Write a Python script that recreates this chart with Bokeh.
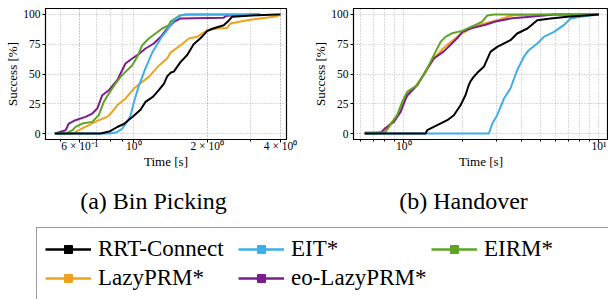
from bokeh.plotting import figure
from bokeh.models import FixedTicker, Legend, LegendItem, Label
from bokeh.layouts import column, row
from bokeh.embed import file_html
from bokeh.resources import INLINE

# ---------------- data ----------------
colors = {"RRT-Connect": "#000000", "EIT*": "#3daee9", "LazyPRM*": "#efa21f",
          "eo-LazyPRM*": "#7a1e8b", "EIRM*": "#5ea324"}

# (a) Bin Picking: time [s], success [%]
bp_rrt_t = [0.474, 0.73, 0.80, 0.855, 0.91, 0.969, 1.0, 1.065, 1.117, 1.2, 1.266, 1.33, 1.37, 1.414, 1.459, 1.554, 1.656, 1.76, 1.877, 2.0, 2.1, 2.34, 2.455, 2.53, 3.21, 3.88, 4.0]
bp_rrt_s = [0, 0, 2, 5.5, 8, 12.6, 15, 20, 26.6, 31, 36.4, 42, 48, 51, 52, 60, 66, 75, 80, 86, 88, 91, 95, 98, 99.4, 100, 100]
bp_eit_t = [0.474, 0.80, 0.85, 0.896, 0.94, 0.969, 1.0, 1.048, 1.08, 1.117, 1.19, 1.266, 1.30, 1.349, 1.414, 1.46, 1.554, 1.62, 3.3]
bp_eit_s = [0, 0, 1, 4, 10, 15, 26, 40, 47, 55, 68, 77, 81, 85, 91, 95, 99, 100, 100]
bp_lazy_t = [0.474, 0.56, 0.595, 0.654, 0.718, 0.778, 0.815, 0.855, 0.924, 1.0, 1.083, 1.152, 1.266, 1.37, 1.414, 1.554, 1.68, 1.82, 2.0, 2.2, 2.41, 2.49, 2.92, 3.3, 3.75, 3.95]
bp_lazy_s = [0, 0, 2.8, 7, 11.2, 14, 18.2, 23.8, 29.4, 37.8, 43.4, 47.6, 57, 63, 68, 74, 79.8, 81.2, 86.8, 88.2, 88.6, 92.4, 95.2, 96.6, 98, 99]
bp_eo_t = [0.474, 0.49, 0.525, 0.541, 0.576, 0.633, 0.675, 0.708, 0.742, 0.79, 0.855, 0.924, 0.985, 1.033, 1.117, 1.208, 1.287, 1.37, 1.46, 1.55, 2.34, 2.4, 3.3]
bp_eo_s = [0, 1, 2.8, 8.4, 11.2, 14, 16.8, 21, 32.2, 36.4, 44.8, 58.8, 63, 65.8, 71.4, 75.6, 81, 88, 93.7, 96.5, 97.3, 99, 100]
bp_eirm_t = [0.474, 0.525, 0.56, 0.576, 0.614, 0.675, 0.718, 0.753, 0.79, 0.841, 0.882, 0.924, 0.985, 1.033, 1.083, 1.152, 1.227, 1.308, 1.392, 1.414, 1.554, 1.65, 3.3]
bp_eirm_s = [0, 0, 2.8, 5.6, 8.4, 9.8, 15.4, 26.6, 33.6, 42, 47.6, 51.8, 57.4, 64.4, 74.2, 79.8, 84, 88.2, 91, 94, 99.4, 100, 100]

# (b) Handover
ho_rrt_t = [0.63, 1.292, 1.318, 1.483, 1.67, 1.805, 1.953, 2.07, 2.15, 2.2, 2.28, 2.38, 2.57, 2.78, 3.01, 3.52, 3.81, 4.3, 4.83, 5.65, 6.9, 10.0]
ho_rrt_s = [0, 0, 2.8, 7, 11.2, 15.4, 23.8, 32.2, 40.6, 44, 47.6, 51, 56, 68.6, 72.8, 78.4, 84, 88.2, 95.2, 96.6, 98, 100]
ho_eit_t = [0.63, 2.73, 2.84, 3.01, 3.26, 3.52, 3.81, 4.12, 4.37, 4.83, 5.22, 5.89, 6.6, 7.16, 8.06, 10.0]
ho_eit_s = [0, 0, 8.4, 15.4, 29.4, 37.8, 53.2, 64.4, 70, 75.6, 81.2, 85.4, 91, 96.6, 98, 100]
ho_lazy_t = [0.63, 0.76, 0.79, 0.889, 0.962, 1.02, 1.125, 1.266, 1.425, 1.604, 1.805, 1.953, 2.11, 2.24, 2.47, 2.62, 3.07, 3.39, 3.66, 5.9, 10.0]
ho_lazy_s = [1, 1, 2.8, 11.2, 18.2, 29.4, 37.8, 49, 63, 72, 79, 83.5, 86.5, 89.9, 91.5, 92.7, 95.5, 98, 99.4, 100, 100]
ho_eo_t = [0.63, 0.76, 0.80, 0.889, 0.962, 1.04, 1.171, 1.318, 1.425, 1.604, 1.70, 1.877, 1.993, 2.24, 2.62, 2.95, 3.6, 4.46, 5.9, 10.0]
ho_eo_s = [0, 0.5, 4.2, 9.8, 18.2, 32.2, 40.6, 54.6, 63, 69, 73.1, 80, 85.4, 88.5, 91.3, 94.1, 96.9, 98, 100, 100]
ho_eirm_t = [0.63, 0.806, 0.872, 0.924, 0.981, 1.04, 1.171, 1.292, 1.37, 1.454, 1.543, 1.636, 1.77, 1.99, 2.33, 2.52, 2.68, 2.9, 10.0]
ho_eirm_s = [0, 1.3, 9.8, 15.4, 26.6, 35, 40.6, 51.8, 60.2, 68.6, 77, 81.2, 84.3, 86.2, 91.3, 94, 99.1, 100, 100]

y_ticks = [0, 25, 50, 75, 100]
bp_x_major = [0.6, 1, 2, 4]
bp_x_labels = ["6 × 10⁻¹", "10⁰", "2 × 10⁰", "4 × 10⁰"]
bp_x_minor = [0.5, 0.6, 0.7, 0.8, 0.9, 2, 3, 4]
ho_x_major = [1, 10]
ho_x_labels = ["10⁰", "10¹"]
ho_x_minor = [0.6, 0.7, 0.8, 0.9, 2, 3, 4, 5, 6, 7, 8, 9]
captions = ["(a) Bin Picking", "(b) Handover"]
legend_order = ["RRT-Connect", "LazyPRM*", "EIT*", "eo-LazyPRM*", "EIRM*"]

bp_series = {"LazyPRM*": (bp_lazy_t, bp_lazy_s), "eo-LazyPRM*": (bp_eo_t, bp_eo_s),
             "EIRM*": (bp_eirm_t, bp_eirm_s), "EIT*": (bp_eit_t, bp_eit_s),
             "RRT-Connect": (bp_rrt_t, bp_rrt_s)}
ho_series = {"LazyPRM*": (ho_lazy_t, ho_lazy_s), "eo-LazyPRM*": (ho_eo_t, ho_eo_s),
             "EIRM*": (ho_eirm_t, ho_eirm_s), "EIT*": (ho_eit_t, ho_eit_s),
             "RRT-Connect": (ho_rrt_t, ho_rrt_s)}

SERIF = "Liberation Serif"
GRID = "#b4b4b4"
TOP_H = 171


def make_panel(series, xr, major, labels, minor, width, left, right):
    p = figure(width=width, height=TOP_H, x_axis_type="log", x_range=xr, y_range=(-5, 105),
               output_backend="svg", toolbar_location=None, title=None,
               min_border_left=left, min_border_right=right, min_border_top=8,
               min_border_bottom=30)
    for name, (t, s) in series.items():
        p.line(t, s, line_color=colors[name], line_width=2)
    p.xaxis.ticker = FixedTicker(ticks=major, minor_ticks=minor)
    p.xaxis.major_label_overrides = {k: v for k, v in zip(major, labels)}
    p.yaxis.ticker = FixedTicker(ticks=y_ticks, minor_ticks=[])
    p.xgrid.ticker = p.xaxis[0].ticker
    p.ygrid.ticker = p.yaxis[0].ticker
    for g in (p.xgrid, p.ygrid):
        g.grid_line_color = GRID
        g.grid_line_dash = "1 2"
        g.grid_line_width = 1
    p.xgrid.minor_grid_line_color = GRID
    p.xgrid.minor_grid_line_dash = "1 2"
    p.xaxis.axis_label = "Time [s]"
    p.yaxis.axis_label = "Success [%]"
    for ax in (p.xaxis, p.yaxis):
        ax.axis_label_text_font = SERIF
        ax.axis_label_text_font_size = "13px"
        ax.axis_label_text_font_style = "normal"
        ax.axis_label_text_color = "black"
        ax.major_label_text_font = SERIF
        ax.major_label_text_color = "black"
        ax.major_tick_in = 0
        ax.major_tick_out = 3
        ax.minor_tick_in = 0
        ax.minor_tick_out = 2
        ax.axis_line_color = "black"
        ax.major_tick_line_color = "black"
        ax.minor_tick_line_color = "black"
    p.xaxis.major_label_text_font_size = "11.5px"
    p.yaxis.major_label_text_font_size = "11.5px"
    p.xaxis.major_label_standoff = -3
    p.xaxis.axis_label_standoff = -1
    p.yaxis.major_label_standoff = 2
    p.yaxis.axis_label_standoff = 0
    p.outline_line_color = "black"
    p.outline_line_width = 1.2
    p.background_fill_color = "white"
    p.border_fill_color = "white"
    return p


p1 = make_panel(bp_series, (0.434, 4.233), bp_x_major, bp_x_labels, bp_x_minor, 308, 45, 22)
p2 = make_panel(ho_series, (0.552, 11.2), ho_x_major, ho_x_labels, ho_x_minor, 300, 45, 0)

# bottom panel: captions + legend (legend renderers use data, but the view is far away)
p3 = figure(width=608, height=299 - TOP_H, x_range=(1000, 1001), y_range=(1000, 1001),
            output_backend="svg", toolbar_location=None, title=None,
            x_axis_location=None, y_axis_location=None, min_border=0)
p3.xgrid.visible = False
p3.ygrid.visible = False
p3.outline_line_color = None

for txt, cx in zip(captions, [153, 463]):
    p3.add_layout(Label(x=cx, y=99, x_units="screen", y_units="screen", text=txt,
                        text_align="center", text_baseline="middle", text_font=SERIF,
                        text_font_size="24px", text_color="black"))

items = []
for name in legend_order:
    t, s = bp_series[name]
    lr = p3.line(t, s, line_color=colors[name], line_width=2.5)
    sr = p3.scatter(t, s, marker="square", size=7, fill_color=colors[name],
                    line_color=colors[name])
    items.append(LegendItem(label=name, renderers=[lr, sr]))

legend = Legend(items=items, location=(36, -1), orientation="vertical", nrows=2,
                label_text_font=SERIF, label_text_font_size="23px", label_text_color="black",
                glyph_width=46, glyph_height=20, label_standoff=7, spacing=3, padding=8,
                label_width=137, margin=0, border_line_color="#333333", border_line_width=1,
                background_fill_color="white", background_fill_alpha=1.0)
p3.add_layout(legend, "center")

layout = column(row(p1, p2), p3)
open("out.html", "w").write(file_html(layout, INLINE))
